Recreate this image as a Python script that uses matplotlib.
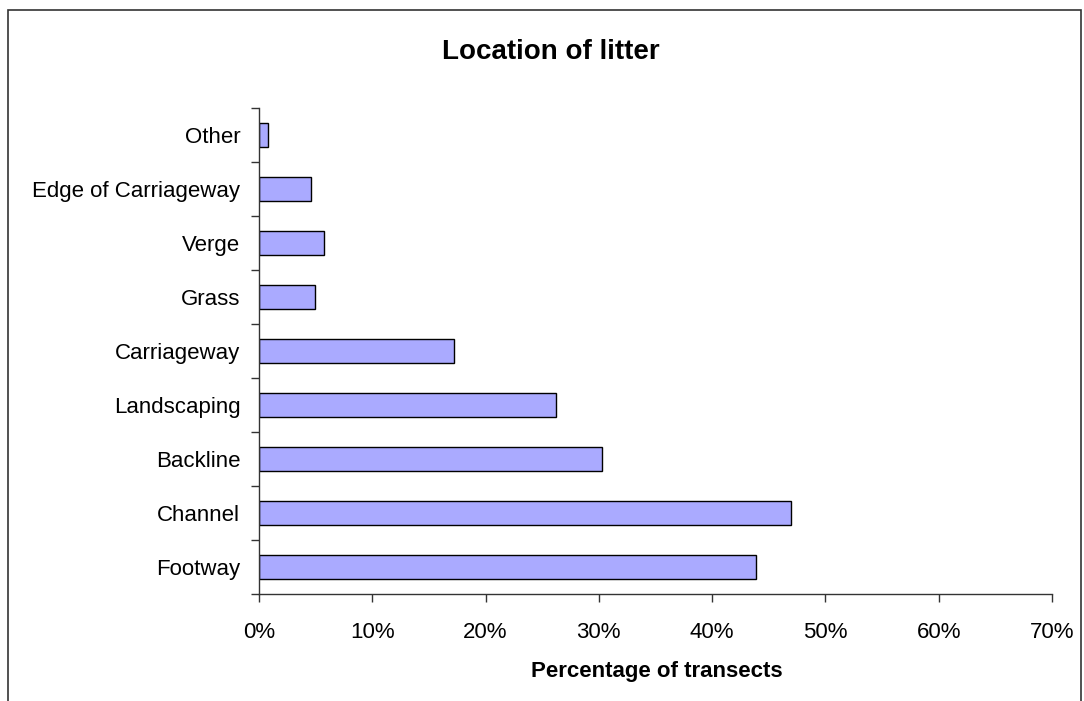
import matplotlib
matplotlib.use("Agg")
import matplotlib.pyplot as plt
from matplotlib.patches import Rectangle
from matplotlib.ticker import FuncFormatter, MultipleLocator, FixedLocator

plt.rcParams['font.family'] = ['Liberation Sans', 'DejaVu Sans']

# Data (bottom to top, as drawn)
locations = ["Footway", "Channel", "Backline", "Landscaping", "Carriageway",
             "Grass", "Verge", "Edge of Carriageway", "Other"]
pct_transects = [43.9, 47.0, 30.3, 26.2, 17.2, 4.9, 5.7, 4.6, 0.8]

W, H = 1084, 701
fig = plt.figure(figsize=(W / 100, H / 100), dpi=100)

# outer chart frame (open at the bottom, like the cropped source)
fig.patches.append(Rectangle((8 / W, -0.05), (1081 - 8) / W, 1.05 - 10 / H,
                             transform=fig.transFigure, fill=False,
                             edgecolor='#333333', linewidth=1.2))

ax = fig.add_axes([259 / W, 1 - 594 / H, (1052 - 259) / W, (594 - 108) / H])

y = list(range(len(locations)))
ax.barh(y, pct_transects, height=0.45, color='#AAAAFF',
        edgecolor='black', linewidth=1.0)

ax.set_xlim(0, 70)
ax.set_ylim(-0.5, len(locations) - 0.5)

ax.xaxis.set_major_locator(MultipleLocator(10))
ax.xaxis.set_major_formatter(FuncFormatter(lambda v, p: f"{v:.0f}%"))

# y ticks at category boundaries, labels at centres
ax.yaxis.set_major_locator(FixedLocator([i - 0.5 for i in range(len(locations) + 1)]))
ax.yaxis.set_major_formatter(FuncFormatter(lambda v, p: ""))
ax.set_yticks(y, minor=True)
ax.set_yticklabels(locations, minor=True)

ax.tick_params(axis='y', which='major', direction='out', length=5.5, width=1, color='#333333')
ax.tick_params(axis='y', which='minor', length=0, pad=13.5, labelsize=16)
ax.tick_params(axis='x', which='major', direction='out', length=5.5, width=1,
               color='#333333', labelsize=16, pad=14.5)

for s in ['top', 'right']:
    ax.spines[s].set_visible(False)
for s in ['left', 'bottom']:
    ax.spines[s].set_color('#333333')
    ax.spines[s].set_linewidth(1.0)

ax.set_xlabel("Percentage of transects", fontsize=16, fontweight='bold')
ax.xaxis.set_label_coords(0.502, -0.138)

fig.text(551 / W, 1 - 59 / H, "Location of litter", fontsize=20,
         fontweight='bold', ha='center', va='baseline')

fig.savefig("out.png", dpi=100)
